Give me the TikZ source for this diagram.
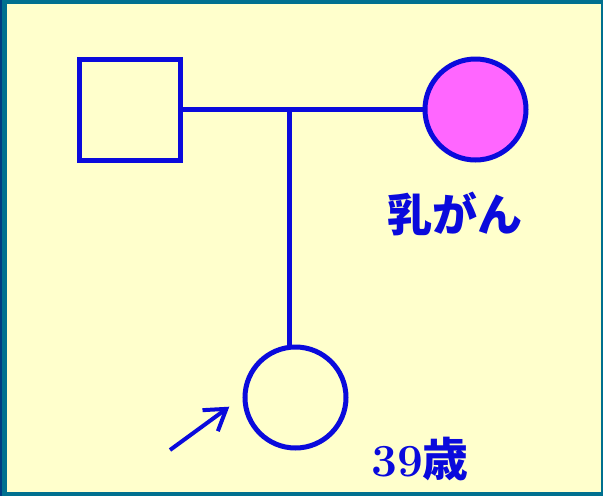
\documentclass[tikz,border=0pt]{standalone}
\usepackage{fontspec}
\newfontfamily\cjk{Noto Sans CJK JP}
\usetikzlibrary{arrows.meta}
\definecolor{bg}{RGB}{255,255,204}
\definecolor{frame}{RGB}{0,112,143}
\definecolor{darkframe}{RGB}{0,60,130}
\definecolor{ln}{RGB}{10,10,220}
\definecolor{pink}{RGB}{255,102,255}
\tikzset{
  sym/.style={draw=ln, line width=5pt, inner sep=0pt, outer sep=0pt},
  conn/.style={draw=ln, line width=5pt},
  lbl/.style={text=ln, inner sep=0pt}
}
\begin{document}
\begin{tikzpicture}[x=1pt,y=-1pt]
\fill[frame] (0,0) rectangle (603,496);
\fill[darkframe] (0,0) rectangle (2,496);
\fill[bg] (7,4) rectangle (601,492);
\useasboundingbox (0,0) rectangle (603,496);
\node[sym, rectangle, minimum width=101pt, minimum height=101pt] (father) at (130,109.5) {};
\node[sym, circle, fill=pink, minimum size=101pt] (mother) at (475.5,109.5) {};
\node[sym, circle, minimum size=101pt] (proband) at (295.5,397.5) {};
\coordinate (junc) at (289.7,109.7);
\draw[conn] (father.east) -- (mother.west);
\draw[conn] (junc) -- (proband.north -| junc);
\node[lbl, font=\cjk\bfseries\fontsize{45}{45}\selectfont] (cancer) at (455,214) {乳がん};
\node[lbl, anchor=base west, font=\bfseries\fontsize{46}{46}\selectfont] (age) at (371,476.5) {39{\cjk 歳}};
\coordinate (astart) at (170,450);
\draw[draw=ln, line width=4pt, -{Straight Barb[length=20pt,width=26pt]}] (astart) -- (229.3,406.7);
\end{tikzpicture}
\end{document}
